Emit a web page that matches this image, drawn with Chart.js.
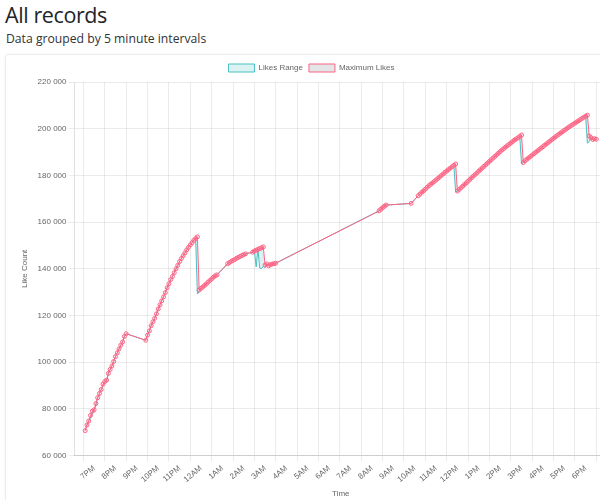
<!DOCTYPE html>
<html>
<head>
<meta charset="utf-8">
<title>All records</title>
<script src="https://cdn.jsdelivr.net/npm/chart.js@4/dist/chart.umd.min.js"></script>
<style>
  body { margin: 0; width: 600px; height: 500px; overflow: hidden; background: #fff; font-family: 'Open Sans', sans-serif; color: #212529; }
  h2 { position: absolute; left: 5px; top: 2px; margin: 0; font-size: 21.5px; font-weight: 500; letter-spacing: -0.4px; line-height: 1.2; }
  .sub { position: absolute; left: 6px; top: 32px; margin: 0; font-size: 12.2px; line-height: 1.2; color: #333; }
  .card { position: absolute; left: 5px; top: 54px; width: 660px; height: 480px; border: 1px solid #ececec; border-radius: 3px; box-shadow: 0 0 3px rgba(0,0,0,0.05); }
  .wrap { position: absolute; left: 8px; top: 56px; width: 611px; height: 445px; }
</style>
</head>
<body>
<h2>All records</h2>
<p class="sub">Data grouped by 5 minute intervals</p>
<div class="card"></div>
<div class="wrap"><canvas id="likeChart"></canvas></div>
<script>
// 5분 단위 기록 (분 = 오후 6시부터 지난 시간)
var minutes = [
  35, 40, 45, 50, 55, 60, 65, 70, 75, 80, 85, 90, 95, 100, 105, 110, 115, 120, 125, 130, 135, 140, 145, 150,
  205, 210, 215, 220, 225, 230, 235, 240, 245, 250, 255, 260, 265, 270, 275, 280, 285, 290, 295, 300, 305, 310, 315, 320, 325, 330, 335, 340, 345, 350,
  355, 360, 365, 370, 375, 380, 385, 390, 395, 400, 405,
  435, 440, 445, 450, 455, 460, 465, 470, 475, 480, 485,
  505, 510, 515, 520, 525, 530, 535,
  540, 545, 550, 555, 560, 565, 570,
  860, 865, 870, 875, 880,
  950,
  970, 975, 980, 985, 990, 995, 1000, 1005, 1010, 1015, 1020, 1025, 1030, 1035, 1040, 1045, 1050, 1055, 1060, 1065, 1070, 1075,
  1080, 1085, 1090, 1095, 1100, 1105, 1110, 1115, 1120, 1125, 1130, 1135, 1140, 1145, 1150, 1155, 1160, 1165, 1170, 1175, 1180, 1185, 1190, 1195, 1200, 1205, 1210, 1215, 1220, 1225, 1230, 1235, 1240, 1245, 1250, 1255, 1260,
  1265, 1270, 1275, 1280, 1285, 1290, 1295, 1300, 1305, 1310, 1315, 1320, 1325, 1330, 1335, 1340, 1345, 1350, 1355, 1360, 1365, 1370, 1375, 1380, 1385, 1390, 1395, 1400, 1405, 1410, 1415, 1420, 1425, 1430, 1435, 1440, 1445,
  1450, 1455, 1460, 1465, 1470
];

var maxLikes = [
  70700, 73100, 74800, 77200, 79000, 79600, 82300, 84800, 86600, 88300, 90600, 91700, 92300, 95200, 96900, 98400, 100300, 102400, 104000, 105700, 107300, 108700, 111000, 112200,
  109400, 111600, 113400, 115600, 117300, 118800, 120700, 122800, 124600, 126300, 128000, 129800, 131900, 133600, 135400, 136700, 138300, 140000, 141500, 143100, 144400, 145600, 146800, 148100, 149200, 150200, 151200, 152200, 153000, 153700,
  130900, 131600, 132200, 132900, 133500, 134300, 135000, 135700, 136400, 137000, 137400,
  142200, 142700, 143200, 143600, 144000, 144500, 144900, 145300, 145700, 146100, 146400,
  147100, 147600, 148000, 148300, 148700, 149000, 149400,
  141600, 142100, 141300, 141800, 142000, 142200, 142400,
  164800, 165500, 166200, 166800, 167300,
  168000,
  171300, 172000, 172800, 173400, 174100, 174900, 175600, 176200, 176800, 177400, 178000, 178700, 179300, 180000, 180600, 181300, 181900, 182500, 183100, 183700, 184300, 184900,
  173300, 174000, 174700, 175400, 176100, 176800, 177500, 178300, 179000, 179700, 180400, 181100, 181800, 182500, 183200, 183900, 184600, 185300, 186000, 186700, 187400, 188100, 188800, 189500, 190200, 190900, 191500, 192100, 192700, 193300, 193900, 194500, 195100, 195600, 196100, 196700, 197300,
  185500, 186300, 186900, 187500, 188100, 188700, 189300, 189900, 190500, 191100, 191700, 192300, 192900, 193500, 194100, 194700, 195300, 195900, 196500, 197100, 197600, 198200, 198700, 199300, 199800, 200400, 200900, 201400, 201900, 202400, 202900, 203400, 203900, 204400, 204900, 205300, 205800,
  196900, 196200, 195400, 195700, 195500
];

// 최소값이 최대값과 다른 구간만 (분 -> 최소 좋아요)
var dipMinutes = [50, 55, 65, 85, 95, 350, 355, 515, 525, 530, 535, 540, 1075, 1260, 1445, 1450];
var dipLikes = [76200, 78200, 81500, 89800, 91600, 129200, 130200, 140800, 140300, 140100, 141000, 140600, 172900, 184900, 193800, 194500];

var tickHours = [19, 20, 21, 22, 23, 24, 25, 26, 27, 28, 29, 30, 31, 32, 33, 34, 35, 36, 37, 38, 39, 40, 41, 42];
var tickLabels = ['7PM', '8PM', '9PM', '10PM', '11PM', '12AM', '1AM', '2AM', '3AM', '4AM', '5AM', '6AM',
                  '7AM', '8AM', '9AM', '10AM', '11AM', '12PM', '1PM', '2PM', '3PM', '4PM', '5PM', '6PM'];

// ---------------- 데이터 만들기 ----------------
var maxData = [];
var minData = [];
for (var i = 0; i < minutes.length; i++) {
  var h = 18 + minutes[i] / 60;
  var d = dipMinutes.indexOf(minutes[i]);
  maxData.push({ x: h, y: maxLikes[i] });
  minData.push({ x: h, y: d >= 0 ? dipLikes[d] : maxLikes[i] });
}
var xMin = 18 + minutes[0] / 60 - 0.5;
var xMax = 18 + minutes[minutes.length - 1] / 60 + 0.5;

function spaced(v) {
  return String(v).replace(/\B(?=(\d{3})+(?!\d))/g, ' ');
}

Chart.defaults.font.family = "'Liberation Sans', Arial, sans-serif";
Chart.defaults.font.size = 8;
Chart.defaults.color = '#666';

var ctx = document.getElementById('likeChart').getContext('2d');
var likeChart = new Chart(ctx, {
  type: 'line',
  data: {
    datasets: [{
      label: 'Likes Range',
      data: minData,
      borderColor: 'rgb(75, 192, 192)',
      backgroundColor: 'rgba(75, 192, 192, 0.2)',
      borderWidth: 1,
      pointRadius: 0,
      fill: '+1',
      tension: 0,
      order: 1
    }, {
      label: 'Maximum Likes',
      data: maxData,
      borderColor: 'rgb(255, 99, 132)',
      backgroundColor: 'rgba(201, 203, 207, 0.5)',
      pointBackgroundColor: 'rgba(255, 99, 132, 0.12)',
      borderWidth: 1,
      pointRadius: 2,
      pointBorderWidth: 1,
      fill: false,
      tension: 0,
      order: 0
    }]
  },
  options: {
    responsive: true,
    maintainAspectRatio: false,
    animation: false,
    layout: { padding: { left: 8, right: 12, top: 2, bottom: 0 } },
    plugins: {
      legend: {
        labels: {
          boxWidth: 26,
          boxHeight: 8,
          padding: 6,
          sort: function (a, b) { return a.datasetIndex - b.datasetIndex; }
        }
      },
      tooltip: { enabled: false }
    },
    scales: {
      x: {
        type: 'linear',
        min: xMin,
        max: xMax,
        afterBuildTicks: function (scale) {
          scale.ticks = tickHours.map(function (v) { return { value: v }; });
        },
        ticks: {
          autoSkip: false,
          minRotation: 40,
          maxRotation: 40,
          padding: 2,
          callback: function (value) {
            var k = tickHours.indexOf(value);
            return k >= 0 ? tickLabels[k] : '';
          }
        },
        grid: { offset: true, color: 'rgba(0,0,0,0.08)', tickLength: 6 },
        border: { color: 'rgba(0,0,0,0.12)' },
        title: { display: true, text: 'Time', padding: { top: 3, bottom: 2 } }
      },
      y: {
        min: 60000,
        max: 220000,
        ticks: {
          stepSize: 20000,
          padding: 2,
          callback: function (value) { return spaced(value); }
        },
        grid: { color: 'rgba(0,0,0,0.08)', tickLength: 6 },
        border: { color: 'rgba(0,0,0,0.12)' },
        title: { display: true, text: 'Like Count', padding: { top: 4, bottom: 6 } }
      }
    }
  }
});
</script>
</body>
</html>
